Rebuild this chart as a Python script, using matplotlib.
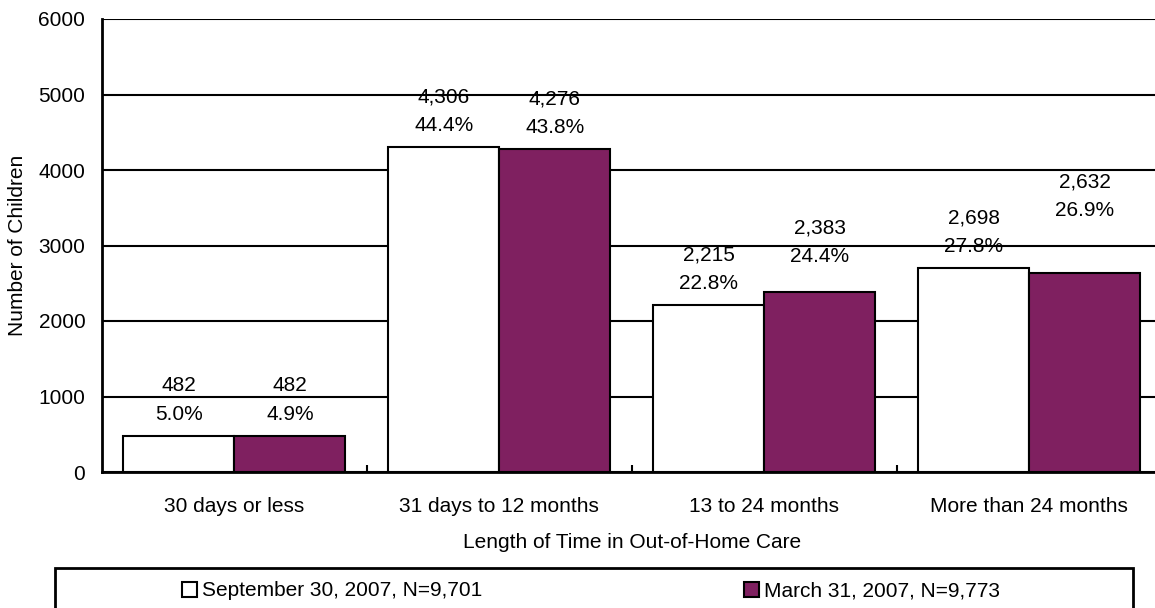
import matplotlib.pyplot as plt
import numpy as np
from matplotlib.patches import Rectangle

plt.rcParams['font.family'] = ['Liberation Sans', 'DejaVu Sans']

# data
categories = ['30 days or less', '31 days to 12 months', '13 to 24 months', 'More than 24 months']
sep_2007 = [482, 4306, 2215, 2698]
mar_2007 = [482, 4276, 2383, 2632]
sep_pct = [5.0, 44.4, 22.8, 27.8]
mar_pct = [4.9, 43.8, 24.4, 26.9]
series_names = ['September 30, 2007, N=9,701', 'March 31, 2007, N=9,773']

# extra lift of some value labels (points), as in the original
sep_lift = [0, 0, 0, 0]
mar_lift = [0, 0, 10, 30]

purple = '#7f2060'

fig = plt.figure(figsize=(11.55, 6.08), dpi=100)
ax = fig.add_axes([102 / 1155, 136 / 608, 1059.5 / 1155, 453 / 608])

x = np.arange(len(categories))
w = 0.419
b1 = ax.bar(x - w / 2, sep_2007, w, color='white', edgecolor='black', linewidth=1.5, zorder=2)
b2 = ax.bar(x + w / 2, mar_2007, w, color=purple, edgecolor='black', linewidth=1.5, zorder=2)

# value labels: count on first line, share on second
for bars, vals, pcts, lift in [(b1, sep_2007, sep_pct, sep_lift), (b2, mar_2007, mar_pct, mar_lift)]:
    for bar, v, p, l in zip(bars, vals, pcts, lift):
        ax.annotate(f'{v:,}\n{p:.1f}%', (bar.get_x() + bar.get_width() / 2, v),
                    xytext=(0, 8.5 + l), textcoords='offset points',
                    ha='center', va='bottom', fontsize=15, linespacing=1.65, zorder=3)

ax.set_ylim(0, 6000)
ax.set_xlim(-0.5, len(categories) - 0.5)
ax.set_yticks(range(0, 6001, 1000))
ax.yaxis.grid(True, color='black', linewidth=1.5, zorder=0.5)
ax.set_axisbelow(True)

# category boundaries get small inward ticks, labels sit in the middle
ax.set_xticks(x[:-1] + 0.5)
ax.set_xticklabels([])
ax.set_xticks(x, minor=True)
ax.set_xticklabels(categories, minor=True, fontsize=15)
ax.tick_params(axis='x', which='major', direction='in', length=5, width=1.5)
ax.tick_params(axis='x', which='minor', length=0, pad=18)
ax.tick_params(axis='y', length=0, pad=12, labelsize=15)

for s in ['top', 'right']:
    ax.spines[s].set_visible(False)
for s in ['left', 'bottom']:
    ax.spines[s].set_linewidth(2)

ax.set_xlabel('Length of Time in Out-of-Home Care', fontsize=15, labelpad=12)
ax.set_ylabel('Number of Children', fontsize=15)
ax.yaxis.set_label_coords(-(102 - 18) / 1059.5, 0.5)
ax.yaxis.label.set_va('center')

# legend box along the bottom
fig.patches.append(Rectangle((55 / 1155, -0.02), 1078 / 1155, (608 - 568) / 608 + 0.02,
                             transform=fig.transFigure, facecolor='none',
                             edgecolor='black', linewidth=2))
for handle, name, xpos in [(b1, series_names[0], 182), (b2, series_names[1], 744)]:
    fig.legend([handle], [name], loc='center left', bbox_to_anchor=(xpos / 1155, 1 - 591 / 608),
               frameon=False, fontsize=15, handlelength=0.7, handleheight=0.7,
               handletextpad=0.25, borderpad=0, borderaxespad=0)

fig.savefig('out.png', dpi=100)
